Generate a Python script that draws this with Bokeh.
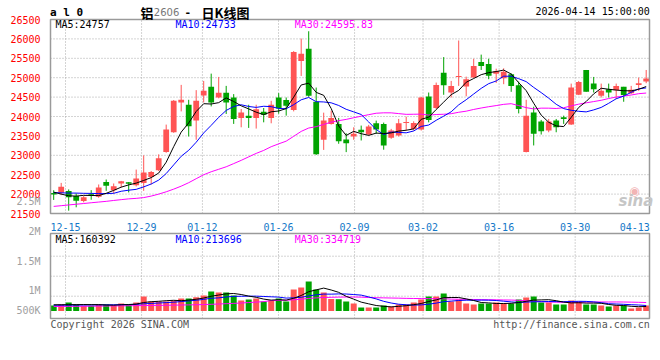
import numpy as np
from bokeh.plotting import figure
from bokeh.models import (Range1d, FixedTicker, CustomJSTickFormatter, Label, ColumnDataSource,
                          LinearAxis)
from bokeh.embed import file_html
from bokeh.resources import INLINE

# ---------------- data ----------------
DATES = ["12-11", "12-12", "12-15", "12-16", "12-17", "12-18", "12-19", "12-22", "12-23", "12-24",
         "12-25", "12-26", "12-29", "12-30", "12-31", "01-05", "01-06", "01-07", "01-08", "01-09",
         "01-12", "01-13", "01-14", "01-15", "01-16", "01-19", "01-20", "01-21", "01-22", "01-23",
         "01-26", "01-27", "01-28", "01-29", "01-30", "02-02", "02-03", "02-04", "02-05", "02-06",
         "02-09", "02-10", "02-11", "02-12", "02-13", "02-24", "02-25", "02-26", "02-27", "03-02",
         "03-03", "03-04", "03-05", "03-06", "03-09", "03-10", "03-11", "03-12", "03-13", "03-16",
         "03-17", "03-18", "03-19", "03-20", "03-23", "03-24", "03-25", "03-26", "03-27", "03-30",
         "03-31", "04-01", "04-02", "04-03", "04-07", "04-08", "04-09", "04-10", "04-13", "04-14"]

OPEN = [22030, 22033, 22077, 21949, 21821, 21992, 21931, 22315, 22102, 22274,
        22307, 22230, 22289, 22443, 22614, 23082, 23594, 24362, 24303, 23894,
        24541, 24764, 24490, 24610, 24490, 23963, 24022, 23963, 24124, 23963,
        24490, 24423, 24167, 25429, 25749, 24380, 23400, 23809, 23809, 23407,
        23484, 23656, 23535, 23825, 23809, 23451, 23510, 23835, 23681, 23663,
        24515, 24219, 25130, 24618, 25020, 24776, 25002, 25403, 25352, 25104,
        24986, 25088, 24808, 23082, 24106, 23868, 23638, 23894, 23980, 23791,
        24559, 25199, 24848, 24533, 24704, 24679, 24764, 24602, 24815, 24900]
HIGH = [22100, 22289, 22120, 22018, 21949, 22102, 22248, 22376, 22274, 22340,
        22310, 22632, 22998, 22596, 23024, 23791, 24423, 24815, 24431, 24679,
        24917, 25105, 25020, 24789, 24577, 24193, 24303, 24303, 24219, 24405,
        24602, 24490, 25685, 26010, 26197, 24746, 24099, 24150, 23963, 23569,
        23722, 23766, 23784, 23894, 23843, 23681, 23937, 23996, 23876, 24508,
        24618, 24874, 25531, 24917, 25959, 25027, 25488, 25595, 25488, 25232,
        25242, 25114, 24900, 24431, 24252, 23912, 23937, 23937, 24022, 24848,
        24917, 25199, 25020, 24848, 24848, 24848, 24764, 24789, 25002, 25199]
LOW = [21850, 21974, 21573, 21660, 21788, 21854, 21905, 22084, 22018, 22171,
       22043, 22197, 22084, 22248, 22596, 23066, 23580, 24132, 23484, 23400,
       24362, 24260, 24469, 24065, 23809, 23722, 23706, 23689, 23850, 23825,
       24073, 24022, 24132, 25045, 24508, 23011, 23139, 23791, 23297, 23082,
       23400, 23382, 23510, 23553, 23144, 23425, 23484, 23638, 23638, 23638,
       23850, 24193, 24559, 24490, 24789, 24521, 24994, 25199, 24961, 24866,
       24833, 24636, 24080, 23075, 23254, 23535, 23594, 23594, 23809, 23783,
       24551, 24636, 24618, 24490, 24490, 24449, 24380, 24577, 24661, 24858]
CLOSE = [21990, 22187, 21916, 21829, 21916, 21974, 22171, 22212, 22205, 22333,
         22264, 22402, 22555, 22571, 22921, 23663, 24405, 24431, 23748, 24405,
         24661, 24362, 24610, 24362, 23937, 24106, 23963, 24188, 24047, 24303,
         24208, 24277, 25660, 25616, 24533, 23024, 23894, 23963, 23364, 23313,
         23553, 23594, 23740, 23663, 23254, 23638, 23825, 23850, 23835, 24490,
         23912, 24815, 24808, 24789, 25037, 24961, 25301, 25301, 25053, 25173,
         25155, 24789, 24193, 24022, 23553, 23620, 23868, 23722, 23937, 24746,
         24892, 24636, 24704, 24661, 24618, 24789, 24551, 24687, 24858, 24977]
VOLUME = [220000, 260000, 340000, 260000, 208000, 208000, 260000, 260000, 220000, 300000,
          260000, 340000, 580000, 380000, 380000, 380000, 420000, 500000, 500000, 552000,
          620000, 780000, 740000, 740000, 620000, 420000, 460000, 500000, 380000, 420000,
          500000, 380000, 860000, 940000, 1180000, 860000, 740000, 480000, 472000, 380000,
          300000, 140000, 140000, 140000, 220000, 180000, 260000, 260000, 340000, 460000,
          580000, 580000, 700000, 380000, 460000, 300000, 260000, 300000, 300000, 340000,
          300000, 300000, 460000, 540000, 580000, 340000, 340000, 260000, 260000, 420000,
          380000, 260000, 260000, 220000, 180000, 220000, 220000, 100000, 140000, 220000]

# moving-average values before enough bars are on the chart
MA5_HEAD = [22051, 22000, 21956, 21949]
MA10_HEAD = [22038, 22033, 22026, 22026, 22020, 22018, 22013, 22013, 22020]
MA30_HEAD = [21683, 21701, 21721, 21739, 21757, 21777, 21795, 21813, 21836, 21857,
             21877, 21890, 21910, 21949, 22000, 22059, 22128, 22205, 22294, 22397,
             22499, 22576, 22640, 22704, 22786, 22870, 22960, 23049, 23126]
VMA5_HEAD = [250000, 250000, 255000, 255000]
VMA10_HEAD = [230000, 232000, 235000, 238000, 240000, 242000, 245000, 248000, 250000]
VMA30_HEAD = [180000, 182000, 185000, 188000, 190000, 193000, 196000, 200000, 203000, 207000,
              210000, 214000, 218000, 222000, 226000, 230000, 235000, 240000, 245000, 250000,
              258000, 268000, 280000, 293000, 305000, 320000, 338000, 356000, 375000]

X_LABELS = ["12-15", "12-29", "01-12", "01-26", "02-09", "03-02", "03-16", "03-30", "04-13"]
PRICE_TICKS = [21500, 22000, 22500, 23000, 23500, 24000, 24500, 25000, 25500, 26000, 26500]
VOL_LABELS = ["2.5M", "2M", "1.5M", "1M", "500K"]
MA_PRICE_TEXT = ["MA5:24757", "MA10:24733", "MA30:24595.83"]
MA_VOL_TEXT = ["MA5:160392", "MA10:213696", "MA30:334719"]
TITLE_CODE = "a l 0"
TITLE_PARTS = ["铝", "2606", "-", "日K线图"]
STAMP = "2026-04-14 15:00:00"
COPYRIGHT = "Copyright 2026 SINA.COM"
URL = "http://finance.sina.com.cn"

# ---------------- styling / geometry (page pixels) ----------------
RED = "#ff5454"
GREEN = "#00a300"
MONO = "DejaVu Sans Mono"
CJK = "Noto Sans CJK SC"
GRID_COLOR = "#a8a8a8"
FRAME_COLOR = "#9a9a9a"

W, H = 660, 345
BAR_X0, BAR_STEP = 53.2, 7.5        # px of first bar, px per bar
GRID_X0, GRID_STEP = 65.0, 7.607    # px of first date grid line, px per trading day
PANE_L, PANE_R = 50.0, 649.0
PRICE_TOP, PRICE_BOT = 19.0, 213.0
VOL_TOP, VOL_BOT = 233.0, 318.0
VOL_BASE_PX, VOL_PER_PX = 310.5, 40000.0
VOL_GRID_PX = [255.7, 275.7, 295.7]
VOL_LABEL_PX = [200.7, 230.7, 260.7, 290.0, 310.0]

P_LO, P_HI = PRICE_TICKS[0], PRICE_TICKS[-1]
P_PER_PX = (P_HI - P_LO) / (PRICE_BOT - PRICE_TOP)


def px2x(px):
    return (px - BAR_X0) / BAR_STEP


def py2p(py):
    return P_HI - (py - PRICE_TOP) * P_PER_PX


def py2v(py):
    return (VOL_BASE_PX - py) * VOL_PER_PX


def rolling(vals, n, head):
    out = list(head)
    for i in range(len(head), len(vals)):
        out.append(float(np.mean(vals[i - n + 1:i + 1])))
    return out


n = len(DATES)
idx = list(range(n))
colors = [RED if c >= o else GREEN for o, c in zip(OPEN, CLOSE)]
min_body = P_PER_PX * 1.0
tops, bots = [], []
for o, c in zip(OPEN, CLOSE):
    t, b = max(o, c), min(o, c)
    if t - b < min_body:
        m = (t + b) / 2
        t, b = m + min_body / 2, m - min_body / 2
    tops.append(t)
    bots.append(b)

src = ColumnDataSource(dict(x=idx, h=HIGH, l=LOW, top=tops, bot=bots, vol=VOLUME, color=colors,
                            ma5=rolling(CLOSE, 5, MA5_HEAD), ma10=rolling(CLOSE, 10, MA10_HEAD),
                            ma30=rolling(CLOSE, 30, MA30_HEAD),
                            vma5=rolling(VOLUME, 5, VMA5_HEAD), vma10=rolling(VOLUME, 10, VMA10_HEAD),
                            vma30=rolling(VOLUME, 30, VMA30_HEAD)))

label_idx = [DATES.index(s) for s in X_LABELS]
grid_x = [px2x(GRID_X0 + (i - label_idx[0]) * GRID_STEP) for i in label_idx[:-1]]
XL, XR = px2x(PANE_L), px2x(PANE_R)
label_x = grid_x + [XR - 14.7 / BAR_STEP]

p = figure(width=W, height=H, x_range=Range1d(px2x(0), px2x(W)),
           y_range=Range1d(py2p(H), py2p(0)),
           output_backend="svg", toolbar_location=None, tools="")
p.extra_y_ranges = {"vol": Range1d(py2v(H), py2v(0))}
p.min_border = 0
p.outline_line_color = None
p.background_fill_color = "white"
p.border_fill_color = "white"
p.grid.visible = False

# ---- grid lines (dotted) ----
gx = ColumnDataSource(dict(x=grid_x))
p.segment(x0="x", x1="x", y0=P_LO, y1=P_HI, source=gx, line_color=GRID_COLOR, line_dash="1 2")
p.segment(x0="x", x1="x", y0=py2v(VOL_BOT), y1=py2v(VOL_TOP), y_range_name="vol", source=gx,
          line_color=GRID_COLOR, line_dash="1 2")
gy = ColumnDataSource(dict(y=PRICE_TICKS[1:-1]))
p.segment(x0=XL, x1=XR, y0="y", y1="y", source=gy, line_color=GRID_COLOR, line_dash="1 2")
gv = ColumnDataSource(dict(y=[py2v(v) for v in VOL_GRID_PX]))
p.segment(x0=XL, x1=XR, y0="y", y1="y", source=gv, y_range_name="vol",
          line_color=GRID_COLOR, line_dash="1 2")


def lab(px, py, text, color="black", size="10px", font=MONO, align="left", style_="normal"):
    p.add_layout(Label(x=px2x(px), y=py2p(py), text=text, text_color=color, text_font=font,
                       text_font_size=size, text_align=align, text_baseline="middle",
                       text_font_style=style_))


# watermark (drawn under the candles)
lab(634, 190.5, "◉", color="#f2b4b4", size="12px", font="DejaVu Sans", align="center")
lab(618, 200.5, "sina", color="#c6c6c6", size="15px", font="DejaVu Sans", style_="bold italic")

# ---- price pane ----
p.segment(x0="x", y0="l", x1="x", y1="h", color="color", line_width=1, source=src)
p.vbar(x="x", top="top", bottom="bot", width=0.77, fill_color="color", line_color=None, source=src)
p.line(x="x", y="ma30", color="#ff00ff", line_width=1, source=src)
p.line(x="x", y="ma10", color="#0000ff", line_width=1, source=src)
p.line(x="x", y="ma5", color="#000000", line_width=1, source=src)
p.quad(left=XL, right=XR, bottom=P_LO, top=P_HI, fill_color=None, line_color=FRAME_COLOR,
       line_width=1.5)

# ---- volume pane ----
p.vbar(x="x", top="vol", bottom=0, width=0.8, fill_color="color", line_color=None, source=src,
       y_range_name="vol")
p.line(x="x", y="vma30", color="#ff00ff", line_width=1, source=src, y_range_name="vol")
p.line(x="x", y="vma10", color="#0000ff", line_width=1, source=src, y_range_name="vol")
p.line(x="x", y="vma5", color="#000000", line_width=1, source=src, y_range_name="vol")
p.quad(left=XL, right=XR, bottom=py2v(VOL_BOT), top=py2v(VOL_TOP), fill_color=None,
       line_color=FRAME_COLOR, line_width=1.5, y_range_name="vol")

# ---- axes ----
NEAREST = """
let best = 0;
for (let k = 0; k < pos.length; k++) { if (Math.abs(pos[k] - tick) < Math.abs(pos[best] - tick)) best = k; }
return labels[best];
"""
p.xaxis.fixed_location = P_LO
p.xaxis.ticker = FixedTicker(ticks=label_x)
p.xaxis.formatter = CustomJSTickFormatter(args=dict(pos=label_x, labels=X_LABELS), code=NEAREST)
p.xaxis.axis_line_color = None
p.xaxis.major_tick_line_color = None
p.xaxis.minor_tick_line_color = None
p.xaxis.major_label_standoff = 3
p.xaxis.major_label_text_font = MONO
p.xaxis.major_label_text_font_size = "10px"
p.xaxis.major_label_text_color = "#1478c8"

p.yaxis.fixed_location = XL
p.yaxis.ticker = FixedTicker(ticks=PRICE_TICKS)
p.yaxis.axis_line_color = None
p.yaxis.major_tick_line_color = None
p.yaxis.minor_tick_line_color = None
p.yaxis.major_label_standoff = 4
p.yaxis.major_label_text_font = MONO
p.yaxis.major_label_text_font_size = "10px"
p.yaxis.major_label_text_color = "#ff0000"

vol_tick = [py2v(v) for v in VOL_LABEL_PX]
vax = LinearAxis(y_range_name="vol", fixed_location=XL, ticker=FixedTicker(ticks=vol_tick),
                 formatter=CustomJSTickFormatter(args=dict(pos=vol_tick, labels=VOL_LABELS),
                                                 code=NEAREST))
vax.axis_line_color = None
vax.major_tick_line_color = None
vax.minor_tick_line_color = None
vax.major_label_standoff = 4
vax.major_label_text_font = MONO
vax.major_label_text_font_size = "10px"
vax.major_label_text_color = "#a0a0a0"
p.add_layout(vax, "left")

# header texts
lab(49.5, 12.3, TITLE_CODE, size="11px", style_="bold")
lab(140, 11.5, TITLE_PARTS[0], size="13px", font=CJK, style_="bold")
lab(153.3, 11.3, TITLE_PARTS[1], color="#777777", size="10px", font="DejaVu Sans")
lab(184, 11.5, TITLE_PARTS[2], size="11px", style_="bold")
lab(201, 11.5, TITLE_PARTS[3], size="13px", font=CJK, style_="bold")
lab(649.3, 11.3, STAMP, align="right")
# MA readouts
lab(55, 24, MA_PRICE_TEXT[0], color="#000000")
lab(175, 24, MA_PRICE_TEXT[1], color="#0000ff")
lab(294.3, 24, MA_PRICE_TEXT[2], color="#ff00ff")
lab(55, 239.2, MA_VOL_TEXT[0], color="#000000")
lab(175, 239.2, MA_VOL_TEXT[1], color="#0000ff")
lab(294.3, 239.2, MA_VOL_TEXT[2], color="#ff00ff")
# footer
lab(50, 324.3, COPYRIGHT, color="#555555")
lab(649.3, 324.3, URL, color="#555555", align="right")

open("out.html", "w").write(file_html(p, INLINE))
